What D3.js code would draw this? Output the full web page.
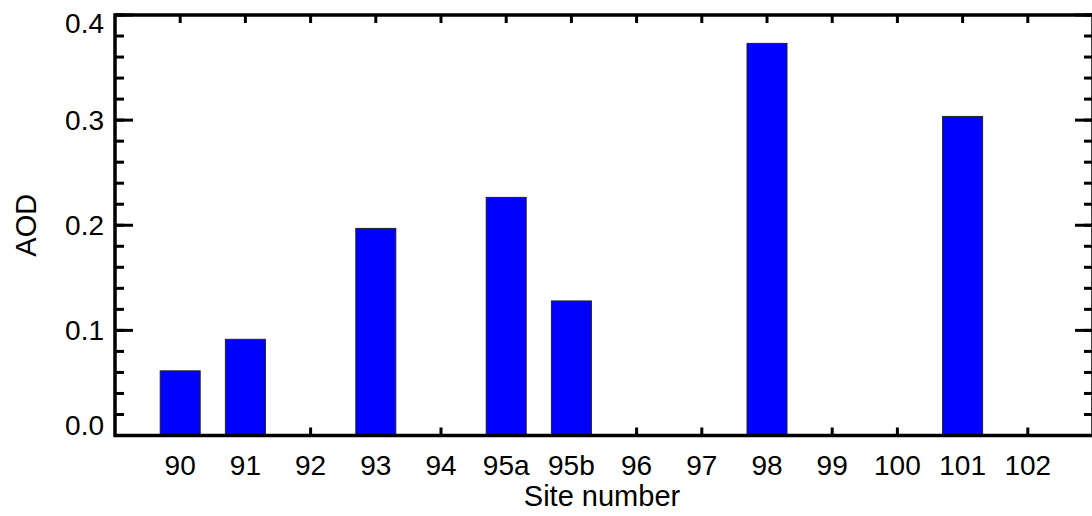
<!DOCTYPE html>
<html>
<head>
<meta charset="utf-8">
<script src="https://cdn.jsdelivr.net/npm/d3@7"></script>
<style>
  html, body { margin: 0; padding: 0; background: #fff; }
  svg { display: block; }
  text { font-family: "Liberation Sans", Arial, sans-serif; fill: #000; }
</style>
</head>
<body>
<script>
const categories = ["90","91","92","93","94","95a","95b","96","97","98","99","100","101","102"];
const aodValues  = [0.0615, 0.0915, null, 0.197, null, 0.2265, 0.128, null, null, 0.373, null, null, 0.3035, null];
const yMajorTicks = [0.0, 0.1, 0.2, 0.3, 0.4];
const yMinorTicks = d3.range(0, 0.4001, 0.02);
const xTitle = "Site number";
const yTitle = "AOD";

const W = 1092, H = 516;
const m = { left: 115, right: 1093, top: 15, bottom: 435.5 };

const svg = d3.select("body").append("svg").attr("width", W).attr("height", H);

const x = d3.scalePoint().domain(categories).range([m.left, m.right]).padding(1);
const y = d3.scaleLinear().domain([0, 0.4]).range([m.bottom, m.top]);
const barW = 40;

const tickG = svg.append("g").attr("stroke", "#000").attr("stroke-width", 3);
// left axis ticks
tickG.selectAll(".lmin").data(yMinorTicks).join("line")
  .attr("x1", m.left).attr("x2", m.left + 9).attr("y1", d => y(d)).attr("y2", d => y(d));
tickG.selectAll(".lmaj").data(yMajorTicks).join("line")
  .attr("x1", m.left).attr("x2", m.left + 18).attr("y1", d => y(d)).attr("y2", d => y(d));
// right axis ticks
tickG.selectAll(".rmin").data(yMinorTicks).join("line")
  .attr("x1", m.right).attr("x2", m.right - 9).attr("y1", d => y(d)).attr("y2", d => y(d));
tickG.selectAll(".rmaj").data(yMajorTicks).join("line")
  .attr("x1", m.right).attr("x2", m.right - 18).attr("y1", d => y(d)).attr("y2", d => y(d));
// bottom / top category ticks
tickG.selectAll(".bt").data(categories).join("line")
  .attr("x1", d => x(d)).attr("x2", d => x(d)).attr("y1", m.bottom).attr("y2", m.bottom - 8);
tickG.selectAll(".tt").data(categories).join("line")
  .attr("x1", d => x(d)).attr("x2", d => x(d)).attr("y1", m.top).attr("y2", m.top + 8);

// bars
const barData = categories.map((c, i) => ({ c, v: aodValues[i] })).filter(d => d.v != null);
svg.append("g").selectAll("rect").data(barData).join("rect")
  .attr("x", d => x(d.c) - barW / 2)
  .attr("width", barW)
  .attr("y", d => y(d.v))
  .attr("height", d => y(0) - y(d.v))
  .attr("fill", "#0000ff")
  .attr("stroke", "#222")
  .attr("stroke-width", 1);

// frame
svg.append("rect")
  .attr("x", m.left).attr("y", m.top)
  .attr("width", m.right - m.left).attr("height", m.bottom - m.top)
  .attr("fill", "none").attr("stroke", "#000").attr("stroke-width", 3.5);

// y tick labels
svg.append("g").selectAll("text").data(yMajorTicks).join("text")
  .attr("x", 104)
  .attr("y", d => Math.min(Math.max(y(d), 23), 425))
  .attr("dy", "0.35em")
  .attr("text-anchor", "end")
  .attr("font-size", 28)
  .text(d => d3.format(".1f")(d));

// x tick labels
svg.append("g").selectAll("text").data(categories).join("text")
  .attr("x", d => x(d))
  .attr("y", 475)
  .attr("text-anchor", "middle")
  .attr("font-size", 28)
  .text(d => d);

// axis titles
svg.append("text")
  .attr("x", (m.left + m.right) / 2 - 2).attr("y", 506)
  .attr("text-anchor", "middle").attr("font-size", 29)
  .text(xTitle);
svg.append("text")
  .attr("transform", `translate(36,${(m.top + m.bottom) / 2}) rotate(-90)`)
  .attr("text-anchor", "middle").attr("font-size", 29)
  .text(yTitle);
</script>
</body>
</html>
